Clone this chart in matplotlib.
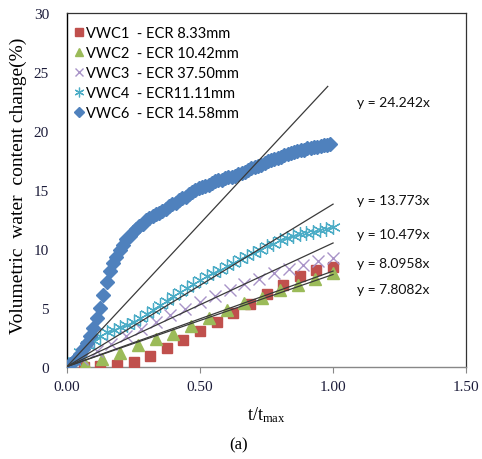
import numpy as np
import matplotlib
matplotlib.use("Agg")
import matplotlib.pyplot as plt
from matplotlib.lines import Line2D

plt.rcParams["mathtext.fontset"] = "custom"
plt.rcParams["mathtext.rm"] = "Liberation Serif"
plt.rcParams["mathtext.it"] = "Liberation Serif:italic"

# ---- data ----
vwc1_y = [0, 0, 0.05, 0.15, 0.4, 0.9, 1.55, 2.25, 3.0, 3.75, 4.55, 5.3, 6.15, 6.95, 7.65, 8.15, 8.4]
vwc2_y = [0, 0.2, 0.6, 1.15, 1.8, 2.3, 2.8, 3.4, 4.1, 4.8, 5.35, 5.85, 6.45, 6.95, 7.45, 7.9]
vwc3_y = [0, 0.6, 1.3, 1.9, 2.6, 3.2, 3.8, 4.4, 4.9, 5.45, 5.95, 6.5, 7.0, 7.45, 7.9, 8.3, 8.65, 8.95, 9.2]
vwc4_y = [0, 0.5, 1.2, 1.8, 2.2, 2.6, 2.9, 3.1, 3.35, 3.55, 3.8, 4.1, 4.45, 4.8, 5.2, 5.6, 5.95,
          6.3, 6.7, 7.0, 7.3, 7.65, 7.95, 8.2, 8.5, 8.8, 9.1, 9.35, 9.65, 9.9, 10.2, 10.4, 10.7,
          10.9, 11.05, 11.2, 11.35, 11.45, 11.55, 11.7, 11.8]
vwc6_y = [0, 0.2, 0.45, 0.75, 1.1, 1.5, 2.0, 2.6, 3.3, 4.1, 5.0, 6.1, 7.2, 8.1, 8.8, 9.3, 9.9,
          10.3, 10.8, 11.1, 11.4, 11.7, 11.9, 12.1, 12.4, 12.6, 12.8, 12.9, 13.05, 13.2, 13.4,
          13.6, 13.75, 13.9, 14.1, 14.3, 14.4, 14.6, 14.8, 14.95, 15.15, 15.2, 15.35, 15.4,
          15.55, 15.7, 15.8, 15.8, 15.95, 16.05, 16.1, 16.2, 16.3, 16.45, 16.5, 16.7, 16.8,
          16.9, 17.0, 17.1, 17.3, 17.4, 17.5, 17.6, 17.7, 17.8, 17.9, 18.0, 18.1, 18.2, 18.25,
          18.35, 18.4, 18.5, 18.55, 18.6, 18.65, 18.7, 18.75, 18.8, 18.85]
vwc1_tmax, vwc2_tmax, vwc3_tmax, vwc4_tmax, vwc6_tmax = 1.0, 1.0, 1.0, 1.0, 0.99

labels = ["VWC1  - ECR 8.33mm", "VWC2  - ECR 10.42mm", "VWC3  - ECR 37.50mm",
          "VWC4  - ECR11.11mm", "VWC6  - ECR 14.58mm"]
slopes = [24.242, 13.773, 10.479, 8.0958, 7.8082]
slope_ends = [0.98, 1.0, 1.0, 1.0, 1.0]
eq_labels = ["y = 24.242x", "y = 13.773x", "y = 10.479x", "y = 8.0958x", "y = 7.8082x"]
eq_y = [22.4, 14.1, 11.2, 8.8, 6.6]
x_ticks = [0.0, 0.5, 1.0, 1.5]
y_ticks = [0, 5, 10, 15, 20, 25, 30]

# ---- plot ----
fig = plt.figure(figsize=(4.82, 4.60), dpi=100)
ax = fig.add_axes([0.139, 0.201, 0.828, 0.769])

sans = ["Lato", "DejaVu Sans"]
serif = ["Liberation Serif", "DejaVu Serif"]

def xs(y, tmax):
    return np.linspace(0, tmax, len(y))

styles = [
    dict(marker="s", ms=7.5, color="#C0504D"),
    dict(marker="^", ms=8.5, color="#9BBB59"),
    dict(marker="x", ms=9, mew=1.0, color="#A994C8"),
    dict(marker=(6, 2, 0), ms=10.5, mew=0.9, color="#4BACC6"),
    dict(marker="D", ms=7, color="#4F81BD"),
]
series = [(vwc1_y, vwc1_tmax), (vwc2_y, vwc2_tmax), (vwc3_y, vwc3_tmax),
          (vwc4_y, vwc4_tmax), (vwc6_y, vwc6_tmax)]
for (y, tm), st in zip(series, styles):
    ax.plot(xs(y, tm), y, ls="none", zorder=3, **st)

for s, e in zip(slopes, slope_ends):
    ax.plot([0, e], [0, s * e], color="#3a3a3a", lw=0.9, zorder=4)

for t, yy in zip(eq_labels, eq_y):
    ax.text(1.09, yy, t, fontsize=10, family=sans, color="#111111", va="center", ha="left")

ax.set_xlim(0, 1.5)
ax.set_ylim(0, 30)
ax.set_xticks(x_ticks)
ax.set_xticklabels([f"{v:.2f}" for v in x_ticks])
ax.set_yticks(y_ticks)
ax.set_yticklabels([str(v) for v in y_ticks])
for lab in ax.get_xticklabels() + ax.get_yticklabels():
    lab.set_family(serif)
    lab.set_fontsize(11)
    lab.set_color("#1c1c3a")
ax.tick_params(axis="x", direction="out", length=4, color="#888888", pad=6)
ax.tick_params(axis="y", length=0, pad=13)

for sp in ["top", "right"]:
    ax.spines[sp].set_color("#333333")
    ax.spines[sp].set_linewidth(0.9)
ax.spines["left"].set_color("#000000")
ax.spines["left"].set_linewidth(1.0)
ax.spines["bottom"].set_color("#888888")
ax.spines["bottom"].set_linewidth(1.0)

fig.text(18 / 482, 1 - 186 / 460, "Volumetric  water  content change(%)", family=serif, fontsize=14,
         rotation=90, ha="center", va="center")
ax.set_xlabel(r"t/t$_{\mathrm{max}}$", family=serif, fontsize=13, labelpad=8)
fig.text(0.494, 0.032, "(a)", family=serif, fontsize=12, ha="center", va="center")

leg_sizes = [5.2, 6.2, 6.0, 7.0, 4.6]
handles = []
for st, sz in zip(styles, leg_sizes):
    d = dict(st)
    d["ms"] = sz
    handles.append(Line2D([], [], ls="none", **d))
ax.legend(handles=handles, labels=labels, loc="upper left", bbox_to_anchor=(0.0, 0.98), frameon=False,
          prop={"family": sans, "size": 10.5},
          handlelength=0.8, handletextpad=0.1, borderaxespad=0.1, labelspacing=0.42,
          borderpad=0.3)

fig.savefig("out.png", dpi=100)
